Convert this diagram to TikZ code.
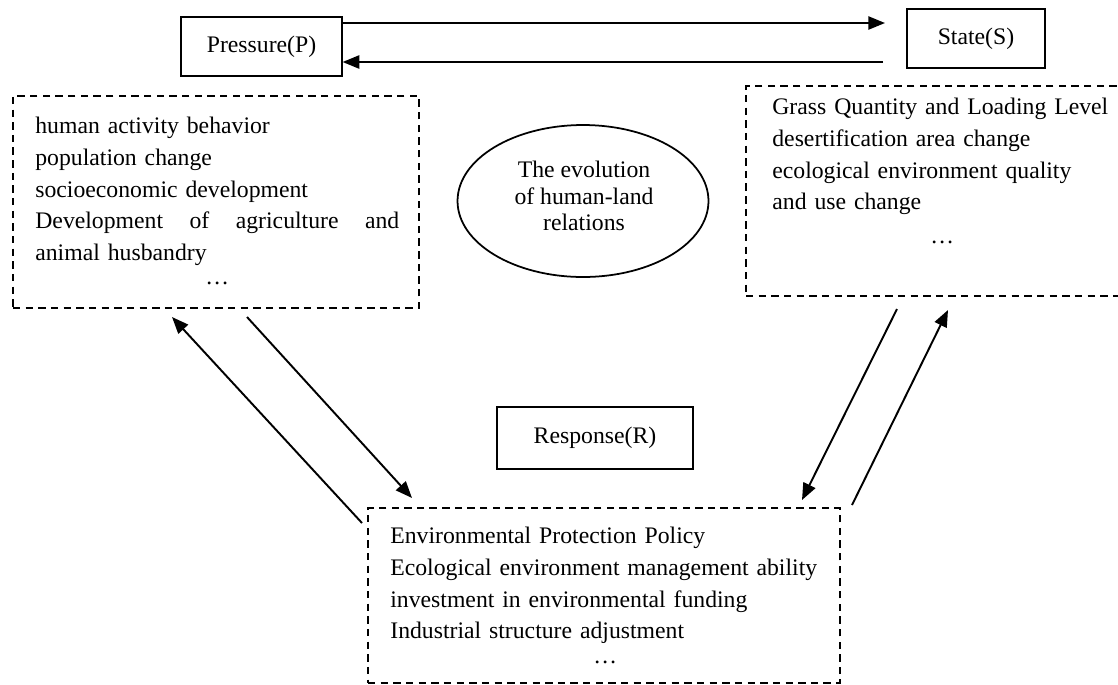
\documentclass[tikz,border=0pt]{standalone}
\usepackage{fontspec}
\setmainfont{Liberation Serif}
\usetikzlibrary{shapes.geometric,arrows.meta}
\newcommand{\bodyfont}{\fontsize{13.5pt}{18pt}\selectfont}
\newcommand{\etcdots}{\hspace*{\fill}\ldots\hspace*{\fill}\mbox{}}
\tikzset{
  blk/.style={draw, line width=0.7pt, minimum height=1.18cm, font=\bodyfont},
  dashbox/.style={draw, line width=1.1pt, dash pattern=on 4.2pt off 3pt, minimum width=#1},
  listtxt/.style={inner sep=0pt, align=left, anchor=north west, font=\bodyfont},
  arr/.style={-{Triangle[length=9.5pt,width=7.5pt]}, line width=1.1pt}
}

\begin{document}
\begin{tikzpicture}[x=0.02cm,y=-0.02cm]
 \clip (0,0) rectangle (1118,684);

 % the three labels
 \node[blk, minimum width=3.22cm] (press) at (261.5,46.5) {Pressure(P)};
 \node[blk, minimum width=2.76cm] (state) at (976,38.5) {State(S)};
 \node[blk, minimum width=3.92cm, minimum height=1.24cm] (resp) at (595,438) {Response(R)};

 % dashed boxes
 \node[dashbox=8.12cm, minimum height=4.24cm] (pbox) at (216,202) {};
 \node[dashbox=7.68cm, minimum height=4.2cm] (sbox) at (938,191) {};
 \node[dashbox=9.44cm, minimum height=3.5cm] (rbox) at (604,595.5) {};

 \node[listtxt, text width=7.28cm] (ptxt) at (35,117)
   {human activity behavior\\
    population change\\
    socioeconomic development\\
    \leavevmode\hbox to 7.28cm{Development\hfill of\hfill agriculture\hfill and}\\
    animal husbandry\\[-4.4pt]
    \etcdots};
 \node[listtxt, text width=6.8cm] (stxt) at (772,98)
   {Grass Quantity and Loading Level\\
    desertification area change\\
    ecological environment quality\\
    and use change\\[1.3pt]
    \etcdots};
 \node[listtxt, text width=8.6cm] (rtxt) at (390,527)
   {Environmental Protection Policy\\
    Ecological environment management ability\\
    investment in environmental funding\\
    Industrial structure adjustment\\[-3.8pt]
    \etcdots};

 % centre
 \node[ellipse, draw, line width=1pt, minimum width=5.02cm, minimum height=3.04cm] (evol) at (583,201) {};
 \node[inner sep=0pt, align=center, anchor=north, font=\bodyfont] (evoltxt) at (584,161)
   {The evolution\\[-3pt] of human-land\\[-3pt] relations};

 % arrows
 \coordinate (sIn) at (885,23);
 \coordinate (sOut) at (883,62);
 \coordinate (pUp) at (172,317);
 \coordinate (rUpL) at (362,523);
 \coordinate (pDn) at (247,317);
 \coordinate (rInL) at (412,498);
 \coordinate (sDn) at (897,309);
 \coordinate (rInR) at (802,500);
 \coordinate (rUpR) at (852,505);
 \coordinate (sUp) at (948,310);

 \draw[arr] (press.east |- sIn) -- (sIn);
 \draw[arr] (sOut) -- (press.east |- sOut);
 \draw[arr] (rUpL) -- (pUp);
 \draw[arr] (pDn) -- (rInL);
 \draw[arr] (sDn) -- (rInR);
 \draw[arr] (rUpR) -- (sUp);

\end{tikzpicture}
\end{document}
